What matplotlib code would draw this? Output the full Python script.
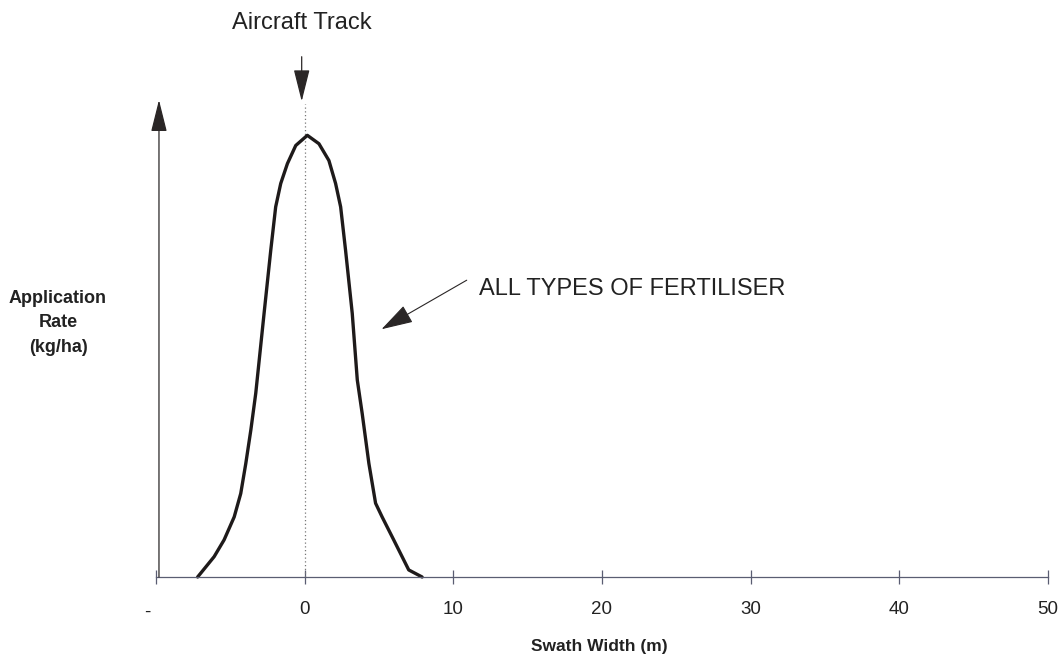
import numpy as np
import matplotlib.pyplot as plt
import matplotlib.transforms as mtransforms

plt.rcParams['font.family'] = ['Liberation Sans', 'DejaVu Sans']

# swath profile (rate in % of peak)
swath_x = [-7.20, -6.09, -5.42, -4.74, -4.30, -3.96, -3.62, -3.29, -2.73, -2.28,
           -1.95, -1.61, -1.16, -0.60, 0.18, 0.96, 1.63, 2.08, 2.42, 2.75,
           3.20, 3.54, 3.87, 4.32, 4.77, 5.21, 5.99, 7.00, 7.90]
rate = [0, 4.6, 8.4, 13.6, 18.9, 25.7, 33.3, 41.6, 59.7, 74.0,
        83.8, 89.1, 93.6, 97.7, 100, 98.1, 94.3, 89.1, 83.8, 74.0,
        59.7, 44.6, 37.0, 25.7, 16.7, 13.6, 8.4, 1.6, 0]

tick_pos = [-10, 0, 10, 20, 30, 40, 50]
tick_labels = ['-', '0', '10', '20', '30', '40', '50']

fig = plt.figure(figsize=(10.6, 6.57), dpi=100)
ax = fig.add_axes([156 / 1060, 80 / 657, 892 / 1060, 477 / 657])
ax.set_xlim(-10, 50)
ax.set_ylim(0, 108)

for s in ['top', 'right', 'left']:
    ax.spines[s].set_visible(False)
ax.spines['bottom'].set_color('#5a5d72')
ax.spines['bottom'].set_linewidth(0.9)
ax.set_yticks([])
ax.set_xticks(tick_pos)
ax.set_xticklabels(tick_labels, fontsize=13.5, color='#222222')
ax.tick_params(axis='x', direction='inout', length=10, width=0.9,
               color='#5a5d72', pad=12)

# the lone dash sits a little left of its tick
dash = ax.get_xticklabels()[0]
dash.set_transform(dash.get_transform() +
                   mtransforms.ScaledTranslation(-0.09, -0.03, fig.dpi_scale_trans))

# aircraft track centre line
ax.plot([0, 0], [0, 107], linestyle=(0, (1, 2)), color='#777777', lw=0.9,
        clip_on=False)

ax.plot(swath_x, rate, color='#1e1a1a', lw=2.4, solid_joinstyle='round',
        solid_capstyle='round', clip_on=False)

head = '-|>,head_length=1.0,head_width=0.25'

# y axis arrow
ax.annotate('', xy=(-9.8, 108), xytext=(-9.8, 0),
            arrowprops=dict(arrowstyle=head, color='#2a2626', lw=0.9,
                            mutation_scale=20, shrinkA=0, shrinkB=0),
            annotation_clip=False)

# aircraft track arrow
ax.annotate('', xy=(-0.2, 107.7), xytext=(-0.2, 117.8),
            arrowprops=dict(arrowstyle=head, color='#2a2626', lw=0.9,
                            mutation_scale=20, shrinkA=0, shrinkB=0),
            annotation_clip=False)
ax.text(-0.2, 125.5, 'Aircraft Track', ha='center', va='center',
        fontsize=17, color='#222222')

# fertiliser label arrow
ax.annotate('', xy=(5.17, 56.1), xytext=(10.9, 67.2),
            arrowprops=dict(arrowstyle='-|>,head_length=1.0,head_width=0.3',
                            color='#2a2626', lw=0.8, mutation_scale=20,
                            shrinkA=0, shrinkB=0),
            annotation_clip=False)
ax.text(11.7, 65.2, 'ALL TYPES OF FERTILISER', ha='left', va='center',
        fontsize=17, color='#222222')

fig.text(58 / 1060, 1 - 323 / 657, 'Application\nRate\n(kg/ha)',
         ha='center', va='center', fontsize=13, fontweight='bold',
         linespacing=1.6, color='#222222')
fig.text(599 / 1060, 1 - 647 / 657, 'Swath Width (m)', ha='center',
         va='center', fontsize=12.5, fontweight='bold', color='#222222')

fig.savefig('out.png', dpi=100, facecolor='white')
